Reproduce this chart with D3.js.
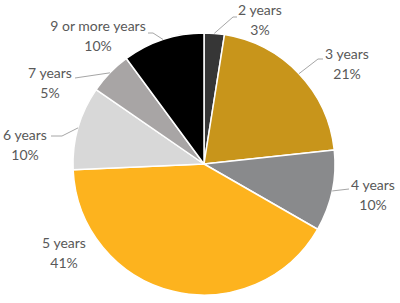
<!DOCTYPE html>
<html>
<head>
<meta charset="utf-8">
<script src="https://cdn.jsdelivr.net/npm/d3@7"></script>
<style>
  body { margin: 0; background: #fff; }
  svg text { font-family: Lato, "Open Sans", sans-serif; font-size: 14px; fill: #595959; }
</style>
</head>
<body>
<div id="chart"></div>
<script>
// chart data (shares; labels show them rounded)
const categories = ["2 years", "3 years", "4 years", "5 years", "6 years", "7 years", "9 or more years"];
const shares = [2.5, 20.8, 10, 41, 10.3, 5.3, 10.1];
const colors = ["#363636", "#C8951B", "#898A8C", "#FDB31E", "#D8D8D8", "#A8A5A5", "#000000"];

// label layout: text centre x, first line y, and leader elbow/end points
const labelLayout = [
    { x: 260, y: 10, leader: [[233, 17], [237, 17]] },
    { x: 347, y: 54, leader: [[318, 59], [323, 59]] },
    { x: 373, y: 185, leader: [[349, 189]] },
    { x: 64, y: 243, leader: null },
    { x: 25, y: 135, leader: [[62, 136], [51, 136]] },
    { x: 50, y: 73, leader: [[75, 78]] },
    { x: 98, y: 26, leader: [[153, 33], [148, 33]] }
];

const width = 400, height = 303;
const cx = 204, cy = 164, radius = 131;

const svg = d3.select("#chart").append("svg")
    .attr("width", width)
    .attr("height", height);

const g = svg.append("g").attr("transform", `translate(${cx},${cy})`);

const pie = d3.pie().sort(null).value(d => d);
const arcs = pie(shares);
const arc = d3.arc().innerRadius(0).outerRadius(radius);

g.selectAll("path.slice")
    .data(arcs)
    .join("path")
    .attr("class", "slice")
    .attr("d", arc)
    .attr("fill", (d, i) => colors[i])
    .attr("stroke", "#fff")
    .attr("stroke-width", 1.5)
    .attr("stroke-linejoin", "round");

// leader lines start on the rim at each slice's mid angle
arcs.forEach((d, i) => {
    const lay = labelLayout[i];
    if (!lay.leader) return;
    const mid = (d.startAngle + d.endAngle) / 2;
    const start = [cx + radius * Math.sin(mid), cy - radius * Math.cos(mid)];
    svg.append("path")
        .attr("d", d3.line()([start, ...lay.leader]))
        .attr("fill", "none")
        .attr("stroke", "#A6A6A6")
        .attr("stroke-width", 1);
});

// labels
const fmt = d3.format(".0%");
arcs.forEach((d, i) => {
    const lay = labelLayout[i];
    const t = svg.append("text")
        .attr("text-anchor", "middle")
        .attr("x", lay.x)
        .attr("y", lay.y + 5);
    t.append("tspan").attr("x", lay.x).text(categories[i]);
    t.append("tspan").attr("x", lay.x).attr("dy", 19.5).text(fmt(Math.round(shares[i]) / 100));
});
</script>
</body>
</html>
